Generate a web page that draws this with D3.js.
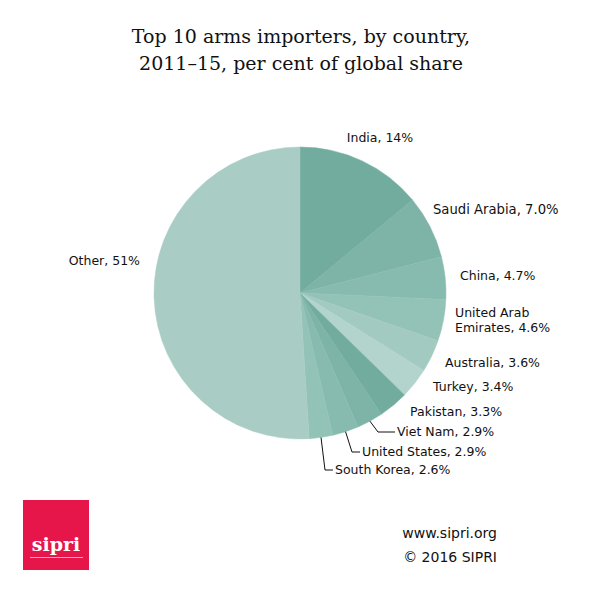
<!DOCTYPE html>
<html>
<head>
<meta charset="utf-8">
<script src="https://cdn.jsdelivr.net/npm/d3@7"></script>
<style>
  body { margin: 0; background: #fff; }
  svg { display: block; }
</style>
</head>
<body>
<div id="chart"></div>
<script>
// Data (global share, per cent, 2011-15)
const countries = ["India", "Saudi Arabia", "China", "United Arab Emirates", "Australia",
    "Turkey", "Pakistan", "Viet Nam", "United States", "South Korea", "Other"]
const shares = [14, 7.0, 4.7, 4.6, 3.6, 3.4, 3.3, 2.9, 2.9, 2.6, 51]
const shareLabels = ["14%", "7.0%", "4.7%", "4.6%", "3.6%", "3.4%", "3.3%", "2.9%", "2.9%", "2.6%", "51%"]

const sliceColors = ["#72ac9f", "#7db4a7", "#88bbaf", "#93c2b7", "#a2cac0", "#b3d4cc",
    "#72ac9f", "#7db4a7", "#88bbaf", "#93c2b7", "#a9cdc5"]

// Label layout: text anchor point, lines, and leader line corner
const labelLayout = {
    "India": { x: 380, y: 142, anchor: "middle" },
    "Saudi Arabia": { x: 433, y: 214, size: 13.2 },
    "China": { x: 460, y: 280 },
    "United Arab Emirates": { x: 455, y: 317, lines: ["United Arab", "Emirates, 4.6%"] },
    "Australia": { x: 445, y: 367 },
    "Turkey": { x: 433, y: 391 },
    "Pakistan": { x: 410, y: 416 },
    "Viet Nam": { x: 397, y: 436, leader: [378, 432] },
    "United States": { x: 362, y: 456, leader: [352, 452] },
    "South Korea": { x: 335, y: 474, leader: [325, 470] },
    "Other": { x: 140, y: 265, anchor: "end" }
}

const width = 600, height = 601
const cx = 300, cy = 293, radius = 146

const svg = d3.select("#chart")
    .append("svg")
    .attr("width", width)
    .attr("height", height)

// Title
svg.append("text")
    .attr("text-anchor", "middle")
    .attr("font-family", "DejaVu Serif")
    .attr("font-size", 19)
    .attr("fill", "#111")
    .selectAll("tspan")
    .data(["Top 10 arms importers, by country,", "2011–15, per cent of global share"])
    .enter()
    .append("tspan")
    .attr("x", 301)
    .attr("y", (d, i) => 43 + i * 27)
    .text(d => d)

const data = countries.map((c, i) => ({ country: c, share: shares[i], label: shareLabels[i], color: sliceColors[i] }))

const pie = d3.pie().value(d => d.share).sort(null)
const arc = d3.arc().innerRadius(0).outerRadius(radius)
const arcs = pie(data)

const g = svg.append("g").attr("transform", `translate(${cx},${cy})`)

g.selectAll("path")
    .data(arcs)
    .enter()
    .append("path")
    .attr("d", arc)
    .attr("fill", d => d.data.color)
    .attr("stroke", d => d.data.color)
    .attr("stroke-width", 0.5)

// Leader lines from the slice edge to the label
arcs.forEach(a => {
    const lay = labelLayout[a.data.country]
    if (!lay.leader) return
    const mid = (a.startAngle + a.endAngle) / 2
    const sx = cx + radius * Math.sin(mid)
    const sy = cy - radius * Math.cos(mid)
    svg.append("path")
        .attr("d", `M${sx},${sy}L${lay.leader[0]},${lay.leader[1]}L${lay.x - 2},${lay.leader[1]}`)
        .attr("fill", "none")
        .attr("stroke", "#111")
        .attr("stroke-width", 1)
})

// Slice labels
arcs.forEach(a => {
    const lay = labelLayout[a.data.country]
    const lines = lay.lines || [a.data.country + ", " + a.data.label]
    const t = svg.append("text")
        .attr("font-family", "DejaVu Sans")
        .attr("font-size", lay.size || 12.5)
        .attr("fill", "#111")
        .attr("text-anchor", lay.anchor || "start")
    t.selectAll("tspan")
        .data(lines)
        .enter()
        .append("tspan")
        .attr("x", lay.x)
        .attr("y", (d, i) => lay.y + i * 15)
        .text(d => d)
})

// Logo
const logo = svg.append("g")
logo.append("rect")
    .attr("x", 23).attr("y", 500)
    .attr("width", 66).attr("height", 70)
    .attr("fill", "#e6154a")
logo.append("text")
    .attr("x", 56).attr("y", 551)
    .attr("text-anchor", "middle")
    .attr("font-family", "DejaVu Serif")
    .attr("font-weight", "bold")
    .attr("font-size", 19)
    .attr("fill", "#fff")
    .text("sipri")
logo.append("line")
    .attr("x1", 30).attr("x2", 83)
    .attr("y1", 557.5).attr("y2", 557.5)
    .attr("stroke", "#fff")
    .attr("stroke-opacity", 0.8)
    .attr("stroke-width", 0.8)

// Footer
svg.append("text")
    .attr("text-anchor", "end")
    .attr("font-family", "DejaVu Sans")
    .attr("font-size", 14)
    .attr("fill", "#111")
    .selectAll("tspan")
    .data(["www.sipri.org", "© 2016 SIPRI"])
    .enter()
    .append("tspan")
    .attr("x", 497)
    .attr("y", (d, i) => 538 + i * 24)
    .text(d => d)
</script>
</body>
</html>
